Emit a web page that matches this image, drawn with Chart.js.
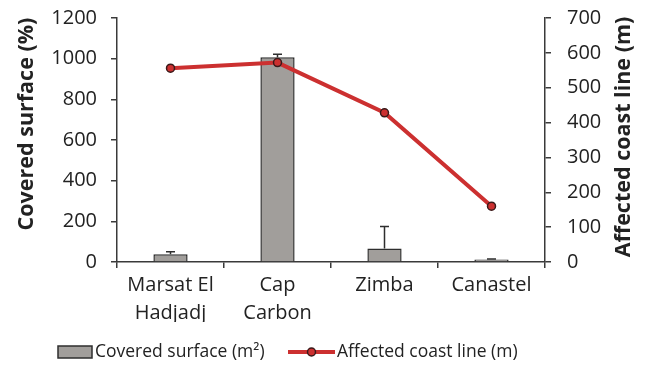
<!DOCTYPE html>
<html><head><meta charset="utf-8">
<script src="https://cdn.jsdelivr.net/npm/chart.js@4/dist/chart.umd.min.js"></script>
<style>html,body{margin:0;padding:0;background:#fff}</style>
</head><body>
<canvas id="c" width="652" height="367"></canvas>
<script>
const categories = [["Marsat El", "Hadjadj"], ["Cap", "Carbon"], "Zimba", "Canastel"];
const coveredSurface = [38, 1007, 66, 12];
const coveredSurfaceError = [13, 15, 108, 3];
const affectedCoastLine = [556, 572, 428, 160];
const leftAxisTitle = "Covered surface (%)";
const rightAxisTitle = "Affected coast line (m)";
const barLegend = "Covered surface (m²)";
const lineLegend = "Affected coast line (m)";

const FONT = "'Open Sans', sans-serif";
const AXIS = '#3a3a3a';
const TXT = '#222222';
const BAR = '#a19e9b';
const BAR_BORDER = '#2e2e2e';
const RED = '#cc3030';

const errorBars = {
  id: 'errorBars',
  afterDatasetDraw(chart, args) {
    if (args.index !== 0) return;
    const ctx = chart.ctx, ys = chart.scales.y;
    const meta = chart.getDatasetMeta(0);
    ctx.save();
    ctx.strokeStyle = BAR_BORDER; ctx.lineWidth = 1.5;
    meta.data.forEach((el, i) => {
      const v = coveredSurface[i], e = coveredSurfaceError[i];
      const y0 = ys.getPixelForValue(v), y1 = ys.getPixelForValue(v + e);
      ctx.beginPath();
      ctx.moveTo(el.x, y0); ctx.lineTo(el.x, y1);
      ctx.moveTo(el.x - 4.5, y1); ctx.lineTo(el.x + 4.5, y1);
      ctx.stroke();
    });
    ctx.restore();
  }
};

const extras = {
  id: 'extras',
  afterDraw(chart) {
    const ctx = chart.ctx;
    ctx.save();
    ctx.fillStyle = TXT;
    ctx.font = "bold 21.5px " + FONT;
    ctx.textAlign = 'center'; ctx.textBaseline = 'middle';
    ctx.save(); ctx.translate(27, 124); ctx.rotate(-Math.PI / 2); ctx.fillText(leftAxisTitle, 0, 0); ctx.restore();
    ctx.save(); ctx.translate(624, 137); ctx.rotate(-Math.PI / 2); ctx.fillText(rightAxisTitle, 0, 0); ctx.restore();
    // legend
    const ly = 352;
    ctx.fillStyle = BAR; ctx.strokeStyle = BAR_BORDER; ctx.lineWidth = 1.5;
    ctx.fillRect(58, ly - 6, 34, 12); ctx.strokeRect(58, ly - 6, 34, 12);
    ctx.fillStyle = TXT; ctx.font = "17.5px " + FONT; ctx.textAlign = 'left';
    ctx.fillText(barLegend, 95, ly);
    ctx.strokeStyle = RED; ctx.lineWidth = 4;
    ctx.beginPath(); ctx.moveTo(288, ly); ctx.lineTo(335, ly); ctx.stroke();
    ctx.beginPath(); ctx.arc(311.5, ly, 4, 0, Math.PI * 2);
    ctx.fillStyle = RED; ctx.fill(); ctx.lineWidth = 1.5; ctx.strokeStyle = '#3a1a1a'; ctx.stroke();
    ctx.fillStyle = TXT;
    ctx.fillText(lineLegend, 337, ly);
    ctx.restore();
  }
};

const plain = v => String(v);

new Chart(document.getElementById('c'), {
  type: 'bar',
  data: {
    labels: categories,
    datasets: [
      { type: 'bar', label: barLegend, data: coveredSurface, yAxisID: 'y', order: 2,
        backgroundColor: BAR, borderColor: BAR_BORDER, borderWidth: 1.5,
        barPercentage: 0.4, categoryPercentage: 0.8 },
      { type: 'line', label: lineLegend, data: affectedCoastLine, yAxisID: 'y1', order: 1,
        borderColor: RED, borderWidth: 4, pointRadius: 4, pointBorderWidth: 1.5,
        pointBackgroundColor: RED, pointBorderColor: '#3a1a1a', tension: 0 }
    ]
  },
  options: {
    responsive: false, animation: false,
    layout: { padding: { top: 18, bottom: 45, left: 0, right: 0 } },
    plugins: { legend: { display: false }, tooltip: { enabled: false } },
    scales: {
      x: {
        offset: true,
        grid: { offset: true, drawOnChartArea: false, tickLength: 6, color: AXIS, lineWidth: 1.5 },
        border: { color: AXIS, width: 1.5 },
        ticks: { color: TXT, font: { family: FONT, size: 20, lineHeight: 1.4 }, padding: 3, maxRotation: 0, autoSkip: false },
        afterFit(s) { s.height = 60; s.paddingLeft = 0; s.paddingRight = 0; }
      },
      y: {
        position: 'left', min: 0, max: 1200,
        grid: { drawOnChartArea: false, tickLength: 6, color: AXIS, lineWidth: 1.5 },
        border: { color: AXIS, width: 1.5 },
        ticks: { stepSize: 200, color: TXT, font: { family: FONT, size: 20 }, padding: 14, callback: plain },
        afterFit(s) { s.width = 117; s.paddingTop = 0; s.paddingBottom = 0; }
      },
      y1: {
        position: 'right', min: 0, max: 700,
        grid: { drawOnChartArea: false, tickLength: 6, color: AXIS, lineWidth: 1.5 },
        border: { color: AXIS, width: 1.5 },
        ticks: { stepSize: 100, color: TXT, font: { family: FONT, size: 20 }, padding: 16, callback: plain },
        afterFit(s) { s.width = 107; s.paddingTop = 0; s.paddingBottom = 0; }
      }
    }
  },
  plugins: [errorBars, extras]
});
</script>
</body></html>
